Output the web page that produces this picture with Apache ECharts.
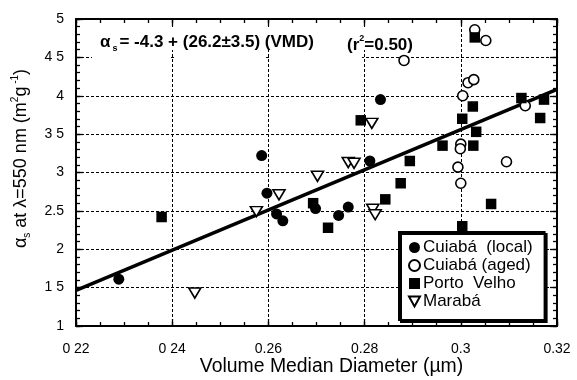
<!DOCTYPE html>
<html>
<head>
<meta charset="utf-8">
<script src="https://cdn.jsdelivr.net/npm/echarts@6/dist/echarts.min.js"></script>
<style>
  html, body { margin: 0; padding: 0; background: #fff; }
  #chart { width: 577px; height: 380px; }
</style>
</head>
<body>
<div id="chart"></div>
<script>
// Volume median diameter (µm) and scattering efficiency at 550 nm (m² g⁻¹)
const cuiabaLocalVmd   = [0.2289, 0.2586, 0.2597, 0.2617, 0.2630, 0.2698, 0.2746, 0.2766, 0.2811, 0.2833];
const cuiabaLocalAlpha = [1.61,   3.22,   2.73,   2.46,   2.37,   2.53,   2.44,   2.55,   3.15,   3.95];

const cuiabaAgedVmd   = [0.2882, 0.3029, 0.3052, 0.3015, 0.3027, 0.3004, 0.3134, 0.3000, 0.2999, 0.2994, 0.3000, 0.3095];
const cuiabaAgedAlpha = [4.46,   4.86,   4.72,   4.17,   4.21,   4.00,   3.87,   3.37,   3.31,   3.07,   2.86,   3.14];

const portoVelhoVmd   = [0.2378, 0.2693, 0.2724, 0.2843, 0.2875, 0.2894, 0.2962, 0.2792, 0.3026, 0.3032, 0.3063, 0.3003, 0.3029, 0.3025, 0.3003, 0.3126, 0.3173, 0.3165];
const portoVelhoAlpha = [2.42,   2.60,   2.28,   2.65,   2.86,   3.15,   3.35,   3.68,   3.35,   3.53,   2.59,   2.30,   4.76,   3.86,   3.70,   3.97,   3.95,   3.71];

const marabaVmd   = [0.2447, 0.2575, 0.2622, 0.2702, 0.2766, 0.2778, 0.2815, 0.2817, 0.2822];
const marabaAlpha = [1.43,   2.49,   2.71,   2.95,   3.13,   3.12,   3.64,   2.52,   2.45];

// Least-squares fit: alpha_s = -4.3 + 26.2 * VMD
const fitIntercept = -4.3;
const fitSlope = 26.2;
const fitVmd = [0.22, 0.32];

const seriesNames = ['Cuiabá  (local)', 'Cuiabá (aged)', 'Porto  Velho', 'Marabá'];
const xTickLabels = ['0 22', '0 24', '0.26', '0.28', '0.3', '0.32'];
const yTickLabels = ['1', '1 5', '2', '2.5', '3', '3 5', '4', '4 5', '5'];

const xMin = 0.22, xMax = 0.32, xStep = 0.02, xMinorStep = 0.005;
const yMin = 1, yMax = 5, yStep = 0.5, yMinorStep = 0.1;

const pairs = (xs, ys) => xs.map((x, i) => [x, ys[i]]);
const downTriangle = 'path://M0,0L10,0L5,9Z';
const font = 'Liberation Sans, Arial, Helvetica, sans-serif';

const chart = echarts.init(document.getElementById('chart'), null, { renderer: 'canvas' });

const frameLine = { show: true, lineStyle: { color: '#000', width: 2 } };
const majorTick = { show: true, inside: true, length: 7, lineStyle: { color: '#000', width: 1.3 } };
const minorTickAxis = {
  axisLine: { show: false },
  axisTick: { show: true, inside: true, length: 4, lineStyle: { color: '#000', width: 1.3 } },
  axisLabel: { show: false },
  splitLine: { show: false }
};
const gridLine = { show: true, lineStyle: { color: '#000', width: 1, type: [3, 2] } };
const tickLabel = { color: '#000', fontSize: 14, fontFamily: font };

// Gaps in the 4.5 grid line behind the regression caption
const captionGaps = [[92, 170], [175, 266], [271, 362]];

chart.setOption({
  animation: false,
  backgroundColor: '#fff',
  textStyle: { fontFamily: font },
  grid: { left: 76, right: 20, top: 19, bottom: 54, containLabel: false, outerBoundsMode: 'none' },
  xAxis: [
    {
      type: 'value', position: 'bottom', min: xMin, max: xMax, interval: xStep,
      axisLine: frameLine, axisTick: majorTick, splitLine: gridLine,
      axisLabel: Object.assign({ margin: 16, formatter: v => xTickLabels[Math.round((v - xMin) / xStep)] }, tickLabel),
      name: 'Volume Median Diameter (\u00b5m)',
      nameLocation: 'middle', nameGap: 31, nameMoveOverlap: false,
      nameTextStyle: { color: '#000', fontSize: 19.4, fontFamily: font, padding: [0, 0, 0, 30] }
    },
    {
      type: 'value', position: 'top', min: xMin, max: xMax, interval: xStep,
      axisLine: frameLine, axisTick: majorTick,
      axisLabel: { show: false }, splitLine: { show: false }
    },
    Object.assign({ type: 'value', position: 'bottom', min: xMin, max: xMax, interval: xMinorStep }, minorTickAxis),
    Object.assign({ type: 'value', position: 'top', min: xMin, max: xMax, interval: xMinorStep }, minorTickAxis)
  ],
  yAxis: [
    {
      type: 'value', position: 'left', min: yMin, max: yMax, interval: yStep,
      axisLine: frameLine, axisTick: majorTick, splitLine: gridLine,
      axisLabel: Object.assign({ margin: 12, formatter: v => yTickLabels[Math.round((v - yMin) / yStep)] }, tickLabel),
      name: '\u03b1{sub|s} at \u03bb=550 nm (m{sup|2}g{sup| -1})',
      nameLocation: 'middle', nameGap: 44, nameRotate: 90,
      nameTextStyle: {
        color: '#000', fontSize: 18, fontFamily: font, lineHeight: 22, padding: [0, 0, 0, 28],
        rich: {
          sub: { fontSize: 10, verticalAlign: 'bottom', color: '#000', fontFamily: font, lineHeight: 22 },
          sup: { fontSize: 10, verticalAlign: 'top', color: '#000', fontFamily: font, lineHeight: 22 }
        }
      }
    },
    {
      type: 'value', position: 'right', min: yMin, max: yMax, interval: yStep,
      axisLine: frameLine, axisTick: majorTick,
      axisLabel: { show: false }, splitLine: { show: false }
    },
    Object.assign({ type: 'value', position: 'left', min: yMin, max: yMax, interval: yMinorStep }, minorTickAxis),
    Object.assign({ type: 'value', position: 'right', min: yMin, max: yMax, interval: yMinorStep }, minorTickAxis)
  ],
  legend: {
    data: seriesNames,
    orient: 'vertical',
    left: 399, top: 232,
    itemWidth: 11, itemHeight: 11, itemGap: 1,
    padding: [7, 12, 10, 9],
    backgroundColor: '#fff',
    borderColor: '#000', borderWidth: 2,
    shadowColor: '#000', shadowBlur: 0, shadowOffsetX: 2, shadowOffsetY: 2,
    textStyle: { color: '#000', fontSize: 17, fontFamily: font, padding: [0, 0, 0, -2] }
  },
  graphic: [
    {
      type: 'rect', z: 50,
      shape: { x: 92, y: 27, width: 275, height: 23 },
      style: { fill: '#fff' }
    }
  ].concat(captionGaps.map(g => ({
    type: 'rect', z: 50,
    shape: { x: g[0], y: 55, width: g[1] - g[0], height: 5 },
    style: { fill: '#fff' }
  }))).concat([
    {
      type: 'text', z: 51, left: 100, top: 34,
      style: {
        text: '\u03b1{sub|s}{b|= -4.3 + (26.2\u00b13.5) (VMD)}',
        fill: '#000', font: 'bold 17px ' + font,
        rich: {
          b: { fontSize: 17, fontWeight: 'bold', fontFamily: font, lineHeight: 22 },
          sub: { fontSize: 9, fontWeight: 'bold', fontFamily: font, verticalAlign: 'bottom', lineHeight: 22, padding: [0, 2, 0, 2] }
        }
      }
    },
    {
      type: 'text', z: 51, left: 347, top: 34,
      style: {
        text: '{b|(r}{sup|2}{b|=0.50)}',
        fill: '#000', font: 'bold 17px ' + font,
        rich: {
          b: { fontSize: 17, fontWeight: 'bold', fontFamily: font, lineHeight: 22 },
          sup: { fontSize: 9, fontWeight: 'bold', fontFamily: font, verticalAlign: 'top', lineHeight: 22 }
        }
      }
    }
  ]),
  series: [
    {
      name: 'fit', type: 'line', xAxisIndex: 0, yAxisIndex: 0,
      data: fitVmd.map(x => [x, fitIntercept + fitSlope * x]),
      symbol: 'none', silent: true, z: 3,
      lineStyle: { color: '#000', width: 3.5 }
    },
    {
      name: seriesNames[0], type: 'scatter', data: pairs(cuiabaLocalVmd, cuiabaLocalAlpha),
      symbol: 'circle', symbolSize: 11, z: 4,
      itemStyle: { color: '#000', opacity: 1 }
    },
    {
      name: seriesNames[1], type: 'scatter', data: pairs(cuiabaAgedVmd, cuiabaAgedAlpha),
      symbol: 'circle', symbolSize: 10, z: 4,
      itemStyle: { color: '#fff', borderColor: '#000', borderWidth: 1.6, opacity: 1 }
    },
    {
      name: seriesNames[2], type: 'scatter', data: pairs(portoVelhoVmd, portoVelhoAlpha),
      symbol: 'rect', symbolSize: 10.5, z: 4,
      itemStyle: { color: '#000', opacity: 1 }
    },
    {
      name: seriesNames[3], type: 'scatter', data: pairs(marabaVmd, marabaAlpha),
      symbol: downTriangle, symbolSize: [12, 10], z: 4,
      itemStyle: { color: '#fff', borderColor: '#000', borderWidth: 1.6, opacity: 1 }
    }
  ]
});
</script>
</body>
</html>
